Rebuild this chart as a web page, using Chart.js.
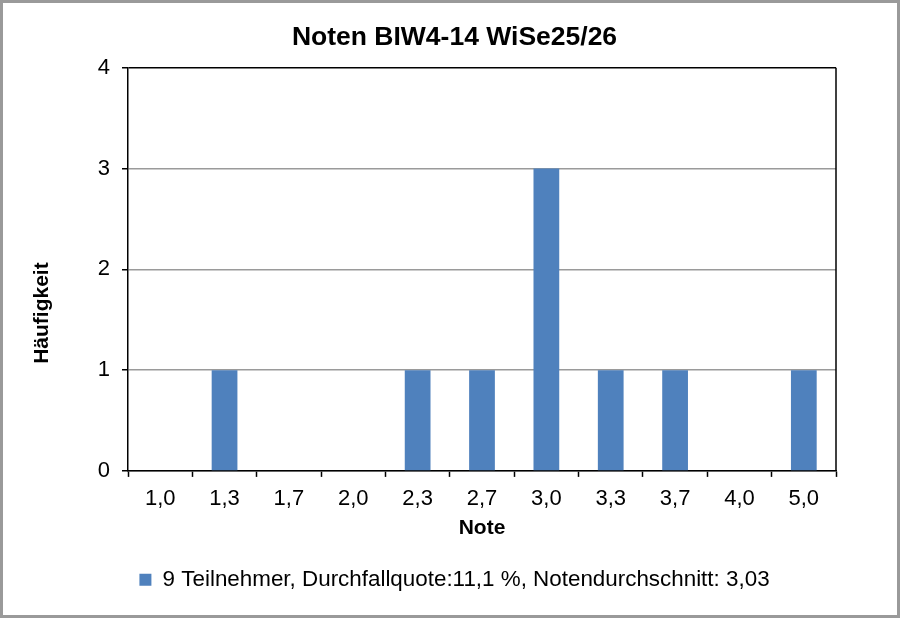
<!DOCTYPE html>
<html>
<head>
<meta charset="utf-8">
<script src="https://cdn.jsdelivr.net/npm/chart.js@4.4.1/dist/chart.umd.min.js"></script>
<style>
  html, body { margin: 0; padding: 0; background: #fff; }
  #wrap { width: 900px; height: 618px; }
</style>
</head>
<body>
<div id="wrap"><canvas id="notenChart" width="900" height="618"></canvas></div>
<script>
// Noten und Häufigkeiten
const noten = ["1,0", "1,3", "1,7", "2,0", "2,3", "2,7", "3,0", "3,3", "3,7", "4,0", "5,0"];
const haeufigkeit = [0, 1, 0, 0, 1, 1, 3, 1, 1, 0, 1];
const yTicks = [0, 1, 2, 3, 4];
const serienName = "9 Teilnehmer, Durchfallquote:11,1 %, Notendurchschnitt: 3,03";

const FONT = "'Liberation Sans', Arial, sans-serif";
// trailing no-break spaces push the rotated axis title a bit downwards
const yTitel = 'Häufigkeit' + '\u00A0'.repeat(15);

// draws the right edge of the plot area and the outer frame
const framePlugin = {
  id: 'frame',
  afterDraw(chart) {
    const c = chart.ctx;
    const a = chart.chartArea;
    c.save();
    c.strokeStyle = '#000';
    c.lineWidth = 1.5;
    c.beginPath();
    c.moveTo(a.right, a.top);
    c.lineTo(a.right, a.bottom);
    c.stroke();
    c.strokeStyle = '#9a9a9a';
    c.lineWidth = 3;
    c.strokeRect(1.5, 1.5, chart.width - 3, chart.height - 3);
    c.restore();
  }
};

new Chart(document.getElementById('notenChart'), {
  type: 'bar',
  data: {
    labels: noten,
    datasets: [{
      label: serienName,
      data: haeufigkeit,
      backgroundColor: '#4f81bd',
      borderWidth: 0,
      categoryPercentage: 1.0,
      barPercentage: 0.4
    }]
  },
  options: {
    responsive: false,
    animation: false,
    devicePixelRatio: 1,
    layout: { padding: { left: 9, right: 0, top: 0, bottom: 17 } },
    plugins: {
      title: {
        display: true,
        text: 'Noten BIW4-14 WiSe25/26',
        color: '#000',
        font: { family: FONT, size: 26.5, weight: 'bold' },
        padding: { top: 21.5, bottom: 14.5 }
      },
      legend: {
        position: 'bottom',
        labels: {
          color: '#000',
          font: { family: FONT, size: 22.4 },
          boxWidth: 12,
          boxHeight: 12,
          padding: 10
        }
      },
      tooltip: { enabled: false }
    },
    scales: {
      x: {
        afterFit(scale) { scale.height -= 6; },
        grid: {
          offset: true,
          drawOnChartArea: false,
          drawTicks: true,
          tickLength: 6,
          tickColor: '#000',
          tickWidth: 1.5
        },
        border: { color: '#000', width: 1.5 },
        ticks: {
          color: '#000',
          font: { family: FONT, size: 22, lineHeight: 1 },
          padding: 11.5,
          maxRotation: 0
        },
        title: {
          display: true,
          text: 'Note',
          color: '#000',
          font: { family: FONT, size: 21, weight: 'bold' },
          padding: { top: 0, bottom: 17.5 }
        }
      },
      y: {
        min: 0,
        max: 4,
        afterFit(scale) { scale.width = 119; },
        afterBuildTicks(scale) { scale.ticks = yTicks.map(v => ({ value: v })); },
        grid: {
          color: ctx => (ctx.tick && ctx.tick.value === 4) ? '#000' : '#9a9a9a',
          lineWidth: 1.5,
          tickLength: 6,
          tickColor: '#000',
          tickWidth: 1.5
        },
        border: { color: '#000', width: 1.5 },
        ticks: {
          color: '#000',
          font: { family: FONT, size: 22 },
          padding: 12
        },
        title: {
          display: true,
          text: yTitel,
          color: '#000',
          font: { family: FONT, size: 21, weight: 'bold' },
          padding: { top: 21, bottom: 0 }
        }
      },
      // empty right-hand scale, reserves the margin right of the plot
      rand: {
        axis: 'y',
        position: 'right',
        afterFit(scale) { scale.width = 64; },
        ticks: { display: false },
        grid: { display: false },
        border: { display: false },
        title: { display: false }
      }
    }
  },
  plugins: [framePlugin]
});
</script>
</body>
</html>
